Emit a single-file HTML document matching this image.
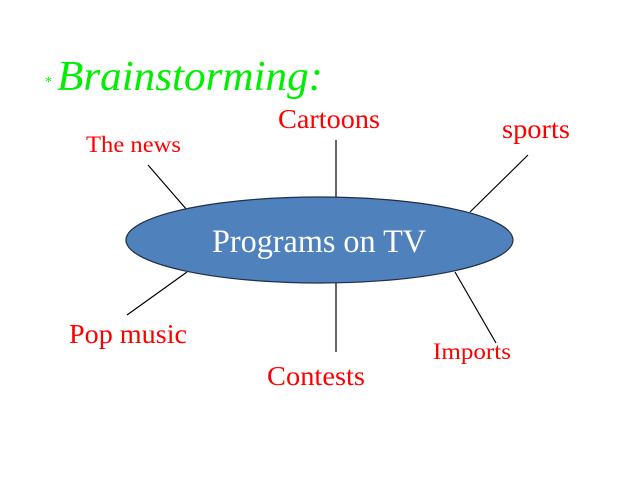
<!DOCTYPE html>
<html><head><meta charset="utf-8"><style>
html,body{margin:0;padding:0;background:#fff;}
svg{display:block;}
text{font-family:"Liberation Serif",serif;}
</style></head><body>
<svg width="640" height="482" viewBox="0 0 640 482" xmlns="http://www.w3.org/2000/svg">
<rect width="640" height="482" fill="#fff"/>
<text x="45" y="86" font-size="14" fill="#00ee00">*</text>
<text x="57" y="90" font-size="42" font-style="italic" fill="#00ee00" textLength="266" lengthAdjust="spacingAndGlyphs">Brainstorming:</text>
<g stroke="#000" stroke-width="1.2">
<line x1="336" y1="140" x2="336" y2="198"/>
<line x1="148" y1="165" x2="187" y2="210"/>
<line x1="528" y1="155" x2="470" y2="212"/>
<line x1="127" y1="315" x2="187" y2="272"/>
<line x1="336" y1="283" x2="336" y2="352"/>
<line x1="455" y1="272" x2="496" y2="343"/>
</g>
<ellipse cx="319.5" cy="240" rx="193.5" ry="43" fill="#4f81bd" stroke="#1f2f44" stroke-width="1.2"/>
<text x="212" y="252" font-size="33" fill="#fff" textLength="214" lengthAdjust="spacingAndGlyphs">Programs on TV</text>
<g fill="#ff0000">
<text x="278" y="128" font-size="27" textLength="102" lengthAdjust="spacingAndGlyphs">Cartoons</text>
<text x="86" y="152" font-size="23" textLength="95" lengthAdjust="spacingAndGlyphs">The news</text>
<text x="502" y="138" font-size="27" textLength="68" lengthAdjust="spacingAndGlyphs">sports</text>
<text x="69" y="343" font-size="27" textLength="118" lengthAdjust="spacingAndGlyphs">Pop music</text>
<text x="267" y="385" font-size="27" textLength="98" lengthAdjust="spacingAndGlyphs">Contests</text>
<text x="433" y="359" font-size="23" textLength="78" lengthAdjust="spacingAndGlyphs">Imports</text>
</g>
</svg>
</body></html>
